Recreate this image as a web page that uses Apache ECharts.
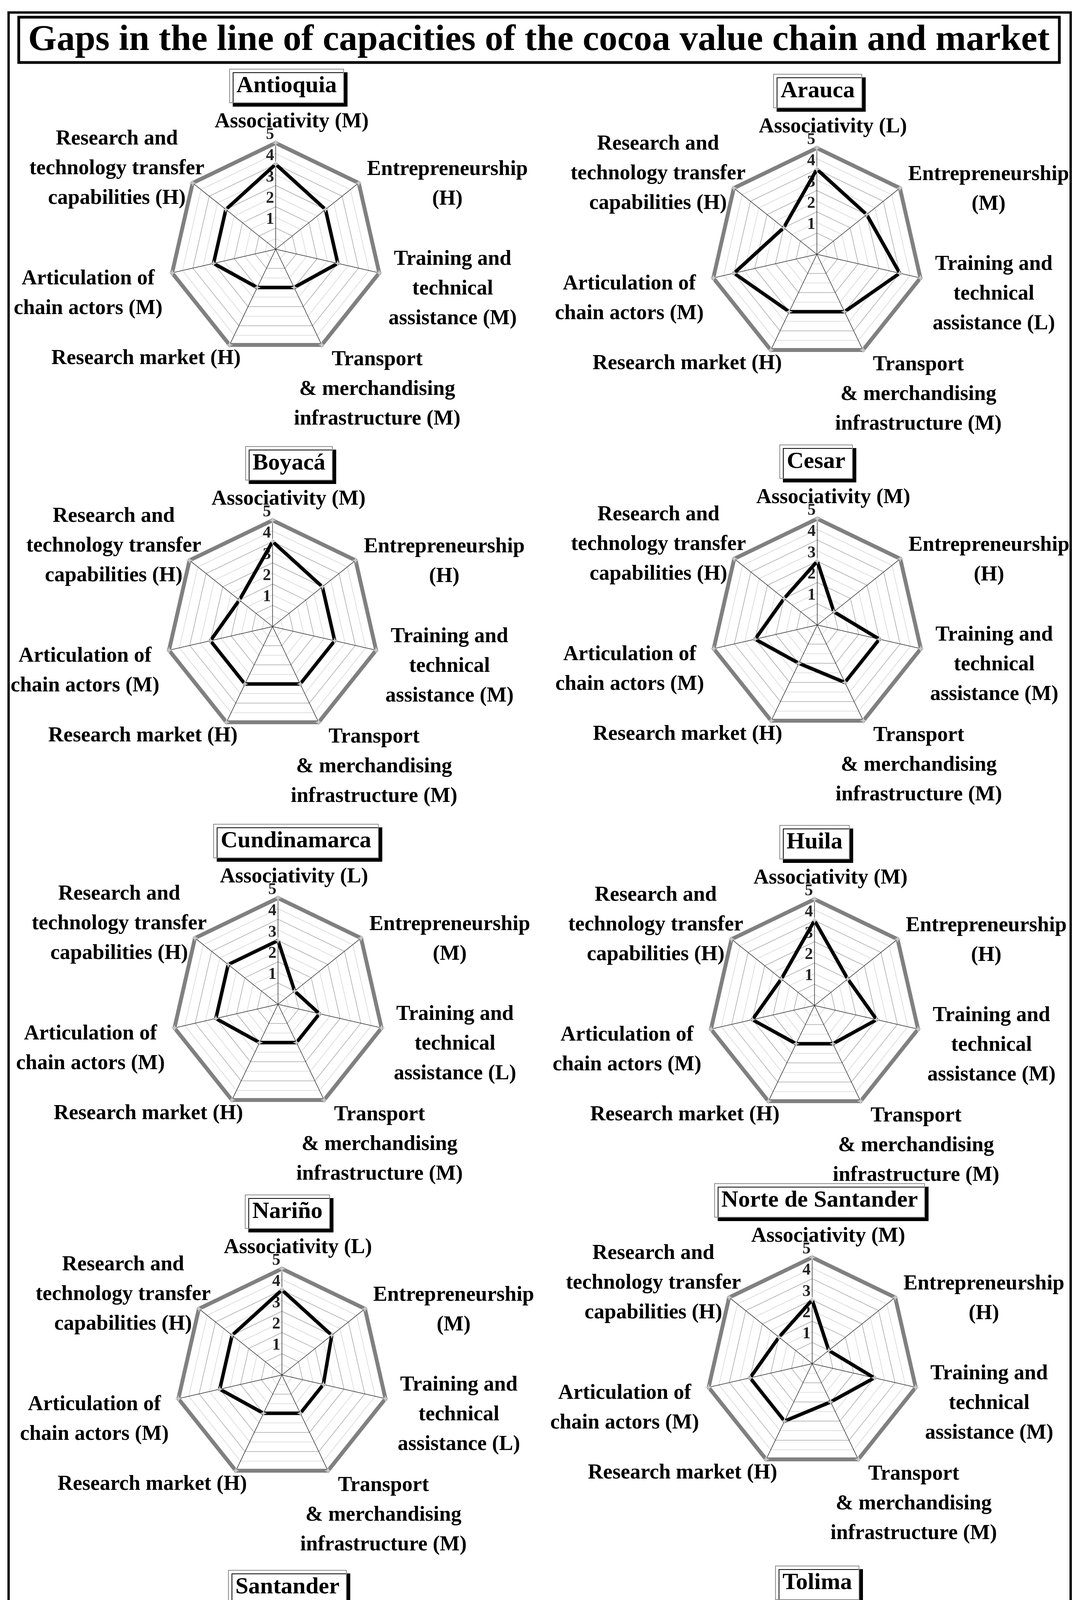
<!DOCTYPE html>
<html>
<head>
<meta charset="utf-8">
<script src="https://cdn.jsdelivr.net/npm/echarts@6/dist/echarts.min.js"></script>
<style>
html,body{margin:0;padding:0;background:#fff;}
#c{width:2771px;height:4999px;}
</style>
</head>
<body>
<div id="c"></div>
<script>
// ---------------- DATA ----------------
const chartTitle = 'Gaps in the line of capacities of the cocoa value chain and market';
const regions = ['Antioquia', 'Arauca', 'Boyacá', 'Cesar', 'Cundinamarca', 'Huila', 'Nariño', 'Norte de Santander', 'Santander', 'Tolima'];
// indicator names (clockwise from top), split into printed lines
const indicatorLines = [
  ['Associativity'],
  ['Entrepreneurship', ''],
  ['Training and', 'technical', 'assistance'],
  ['Transport', '& merchandising', 'infrastructure'],
  ['Research market'],
  ['Articulation of', 'chain actors'],
  ['Research and', 'technology transfer', 'capabilities']
];
const tickLabels = ['1', '2', '3', '4', '5'];
const maxLevel = [5, 5, 5, 5, 5, 5, 5];

const antioquia   = [4, 3, 3, 2, 2, 3, 3];
const arauca      = [4, 3, 4, 3, 3, 4, 2];
const boyaca      = [4, 3, 3, 3, 3, 3, 2];
const cesar       = [3, 1, 3, 3, 2, 3, 2];
const cundinamarca= [3, 1, 2, 2, 2, 3, 3];
const huila       = [4, 2, 3, 2, 2, 3, 2];
const narino      = [4, 3, 2, 2, 2, 3, 3];
const norteSantander = [3, 1, 3, 2, 3, 3, 2];
const santander   = [4, 3, 4, 3, 2, 3, 4];
const tolima      = [4, 2, 3, 3, 2, 3, 3];

const antioquiaLevels    = ['M', 'H', 'M', 'M', 'H', 'M', 'H'];
const araucaLevels       = ['L', 'M', 'L', 'M', 'H', 'M', 'H'];
const boyacaLevels       = ['M', 'H', 'M', 'M', 'H', 'M', 'H'];
const cesarLevels        = ['M', 'H', 'M', 'M', 'H', 'M', 'H'];
const cundinamarcaLevels = ['L', 'M', 'L', 'M', 'H', 'M', 'H'];
const huilaLevels        = ['M', 'H', 'M', 'M', 'H', 'M', 'H'];
const narinoLevels       = ['L', 'M', 'L', 'M', 'H', 'M', 'H'];
const norteLevels        = ['M', 'H', 'M', 'M', 'H', 'M', 'H'];
const santanderLevels    = ['L', 'M', 'L', 'M', 'H', 'M', 'H'];
const tolimaLevels       = ['L', 'M', 'L', 'M', 'H', 'M', 'H'];

const values = [antioquia, arauca, boyaca, cesar, cundinamarca, huila, narino, norteSantander, santander, tolima];
const levels = [antioquiaLevels, araucaLevels, boyacaLevels, cesarLevels, cundinamarcaLevels, huilaLevels, narinoLevels, norteLevels, santanderLevels, tolimaLevels];

// ---------------- LAYOUT ----------------
const FONT = '"Liberation Serif", "Times New Roman", serif';
const R = 272;
const layout = [
  {cx: 706,  cy: 638,  tx: 734},
  {cx: 2092, cy: 651,  tx: 2094},
  {cx: 698,  cy: 1604, tx: 740},
  {cx: 2093, cy: 1600, tx: 2090},
  {cx: 712,  cy: 2571, tx: 758},
  {cx: 2086, cy: 2574, tx: 2086},
  {cx: 722,  cy: 3520, tx: 736},
  {cx: 2080, cy: 3491, tx: 2099},
  {cx: 723,  cy: 4481, tx: 736},
  {cx: 2080, cy: 4470, tx: 2093}
];
const labelOffsets = [[41, -54], [227, 4], [188, 42], [142, 114], [-214, 35], [-215, 54], [-194, -36]];
// ECharts radar runs counter-clockwise; the figure runs clockwise
const order = [0, 6, 5, 4, 3, 2, 1];
const STAR = 'path://M0,-10L2.5,-2.5L10,0L2.5,2.5L0,10L-2.5,2.5L-10,0L-2.5,-2.5Z';

const chart = echarts.init(document.getElementById('c'), null, {renderer: 'canvas', width: 2771, height: 4999});

// fit main title to its box
const mctx = document.createElement('canvas').getContext('2d');
mctx.font = 'bold 100px "Liberation Serif"';
const titleSize = Math.floor(100 * 2630 / mctx.measureText(chartTitle).width);

const radar = [], series = [], titles = [];
const graphics = [
  {type: 'rect', shape: {x: 22, y: 32, width: 2720, height: 4953}, style: {fill: 'none', stroke: '#000', lineWidth: 6}, silent: true},
  {type: 'rect', shape: {x: 48, y: 44, width: 2665, height: 116}, style: {fill: '#fff', stroke: '#000', lineWidth: 7}, silent: true},
  {type: 'text', x: 1380, y: 104, silent: true,
   style: {text: chartTitle, fontFamily: FONT, fontWeight: 'bold', fontSize: titleSize, fill: '#000', align: 'center', verticalAlign: 'middle', textAlign: 'center', textVerticalAlign: 'middle'}}
];

regions.forEach(function (name, k) {
  const L = layout[k];
  radar.push({
    center: [L.cx, L.cy],
    radius: R,
    startAngle: 90,
    shape: 'polygon',
    splitNumber: 10,
    indicator: order.map(function (i, j) {
      const ind = {name: indicatorLines[i].join(' '), min: 0, max: 5};
      if (j === 0) ind.axisLabel = {show: true};
      return ind;
    }),
    axisName: {show: false},
    axisLine: {lineStyle: {color: '#333', width: 1.5}},
    axisTick: {show: false},
    splitLine: {lineStyle: {color: ['#a6a6a6', '#d6d6d6'], width: 1.5}},
    splitArea: {show: false},
    axisLabel: {
      show: false,
      formatter: function (v) { const s = String(v); return tickLabels.indexOf(s) >= 0 ? s : ''; },
      fontFamily: FONT, fontWeight: 'bold', fontSize: 42, color: '#222',
      margin: 4, verticalAlign: 'bottom'
    }
  });
  series.push({
    type: 'radar',
    radarIndex: k,
    silent: true,
    symbol: STAR,
    symbolSize: 18,
    data: [
      {value: order.map(function (i) { return maxLevel[i]; }), name: 'max', lineStyle: {color: '#808080', width: 10}, itemStyle: {color: '#c8c8c8'}},
      {value: order.map(function (i) { return values[k][i]; }), name: name, lineStyle: {color: '#000', width: 9}, itemStyle: {color: '#c8c8c8'}}
    ]
  });
  titles.push({
    text: name,
    left: L.tx - 18,
    top: L.cy - 417 - 44,
    textAlign: 'center',
    padding: [8, 18],
    borderColor: '#8c8c8c',
    borderWidth: 2,
    backgroundColor: '#fff',
    shadowColor: '#000',
    shadowOffsetX: 9,
    shadowOffsetY: 9,
    shadowBlur: 0,
    textStyle: {fontFamily: FONT, fontWeight: 'bold', fontSize: 60, lineHeight: 70, color: '#000'}
  });
  indicatorLines.forEach(function (lines, i) {
    const th = (90 - i * 360 / 7) * Math.PI / 180;
    const vx = L.cx + R * Math.cos(th), vy = L.cy - R * Math.sin(th);
    const t = lines.slice();
    const last = t.length - 1;
    t[last] = (t[last] ? t[last] + ' ' : '') + '(' + levels[k][i] + ')';
    graphics.push({
      type: 'text', silent: true,
      x: vx + labelOffsets[i][0], y: vy + labelOffsets[i][1],
      style: {text: t.join('\n'), fontFamily: FONT, fontWeight: 'bold', fontSize: 54, lineHeight: 76, fill: '#000',
              align: 'center', verticalAlign: 'middle', textAlign: 'center', textVerticalAlign: 'middle'}
    });
  });
});

chart.setOption({
  backgroundColor: '#fff',
  animation: false,
  title: titles,
  radar: radar,
  series: series,
  graphic: graphics
});
</script>
</body>
</html>
